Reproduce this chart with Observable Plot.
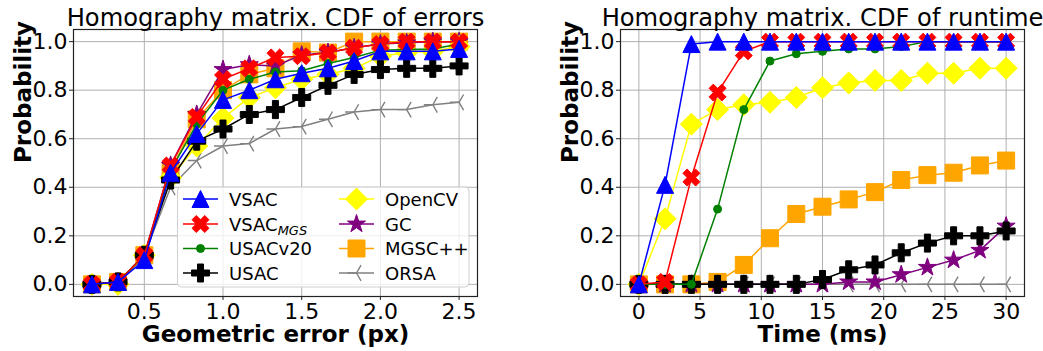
<!DOCTYPE html>
<html>
<head>
<meta charset="utf-8">
<script src="https://cdn.jsdelivr.net/npm/d3@7"></script>
<script src="https://cdn.jsdelivr.net/npm/@observablehq/plot@0.6"></script>
<style>
  html, body { margin: 0; padding: 0; background: #fff; }
  #wrap { position: relative; width: 1043px; height: 351px; overflow: hidden; font-family: "DejaVu Sans", sans-serif; }
  #wrap > .panel { position: absolute; top: 0; }
  #legend { position: absolute; left: 0; top: 0; }
</style>
</head>
<body>
<div id="wrap"></div>
<script>
// ---------- data ----------
const seriesNames = ["VSAC", "VSAC_MGS", "USACv20", "USAC", "OpenCV", "GC", "MGSC++", "ORSA"];
const seriesColors = ["blue", "red", "green", "black", "yellow", "purple", "orange", "gray"];

// error thresholds (px)
const errX = [0.167, 0.333, 0.5, 0.667, 0.833, 1.0, 1.167, 1.333, 1.5, 1.667, 1.833, 2.0, 2.167, 2.333, 2.5];
const errVSAC    = [0.0, 0.01, 0.10, 0.46, 0.62, 0.76, 0.80, 0.845, 0.87, 0.89, 0.92, 0.96, 0.96, 0.96, 0.97];
const errVSACMGS = [0.0, 0.01, 0.12, 0.49, 0.69, 0.845, 0.89, 0.935, 0.94, 0.955, 0.975, 0.99, 1.0, 1.0, 1.0];
const errUSACv20 = [0.0, 0.01, 0.12, 0.47, 0.66, 0.80, 0.845, 0.875, 0.88, 0.91, 0.935, 0.965, 0.968, 0.97, 0.99];
const errUSAC    = [0.0, 0.01, 0.12, 0.43, 0.59, 0.64, 0.70, 0.72, 0.77, 0.82, 0.865, 0.885, 0.89, 0.89, 0.90];
const errOpenCV  = [0.0, 0.0, 0.12, 0.44, 0.57, 0.685, 0.77, 0.81, 0.845, 0.865, 0.89, 0.94, 0.955, 0.96, 0.98];
const errGC      = [0.0, 0.01, 0.12, 0.49, 0.70, 0.885, 0.905, 0.90, 0.945, 0.955, 0.975, 0.99, 0.995, 1.0, 1.0];
const errMGSC    = [0.0, 0.01, 0.12, 0.47, 0.68, 0.80, 0.865, 0.89, 0.96, 0.955, 1.0, 1.0, 1.0, 1.0, 1.0];
const errORSA    = [0.0, 0.01, 0.12, 0.40, 0.51, 0.57, 0.58, 0.64, 0.65, 0.68, 0.71, 0.72, 0.72, 0.74, 0.75];

// runtime thresholds (ms)
const timeX = [0, 2.14, 4.29, 6.43, 8.57, 10.71, 12.86, 15, 17.14, 19.29, 21.43, 23.57, 25.71, 27.86, 30];
const timeVSAC    = [0, 0.41, 0.99, 1, 1, 1, 1, 1, 1, 1, 1, 1, 1, 1, 1];
const timeVSACMGS = [0, 0.01, 0.44, 0.79, 0.96, 1, 1, 1, 1, 1, 1, 1, 1, 1, 1];
const timeUSACv20 = [0, 0, 0, 0.31, 0.72, 0.92, 0.95, 0.96, 0.97, 0.97, 0.98, 1, 1, 1, 1];
const timeUSAC    = [0, 0, 0, 0, 0, 0, 0, 0.02, 0.06, 0.08, 0.13, 0.17, 0.20, 0.20, 0.22];
const timeOpenCV  = [0, 0.27, 0.66, 0.72, 0.74, 0.75, 0.77, 0.81, 0.83, 0.84, 0.84, 0.87, 0.87, 0.89, 0.89];
const timeGC      = [0, 0, 0, 0, 0, 0, 0, 0, 0.01, 0.01, 0.04, 0.07, 0.10, 0.14, 0.24];
const timeMGSC    = [0, 0, 0, 0.01, 0.08, 0.19, 0.29, 0.32, 0.35, 0.38, 0.43, 0.45, 0.46, 0.49, 0.51];
const timeORSA    = [0, 0, 0, 0, 0, 0, 0, 0, 0, 0, 0, 0, 0, 0, 0];

const errTicks = [0.5, 1.0, 1.5, 2.0, 2.5];
const timeTicks = [0, 5, 10, 15, 20, 25, 30];
const probTicks = [0.0, 0.2, 0.4, 0.6, 0.8, 1.0];

const titles = ["Homography matrix. CDF of errors", "Homography matrix. CDF of runtime"];
const xLabels = ["Geometric error (px)", "Time (ms)"];
const yLabel = "Probability";

const errSeries = [errVSAC, errVSACMGS, errUSACv20, errUSAC, errOpenCV, errGC, errMGSC, errORSA];
const timeSeries = [timeVSAC, timeVSACMGS, timeUSACv20, timeUSAC, timeOpenCV, timeGC, timeMGSC, timeORSA];

// ---------- marker shapes (matplotlib-like) ----------
function poly(ctx, pts) { ctx.moveTo(pts[0][0], pts[0][1]); for (let i = 1; i < pts.length; i++) ctx.lineTo(pts[i][0], pts[i][1]); ctx.closePath(); }
const rad = s => Math.sqrt(s / Math.PI);
const symTriangle = { draw(ctx, s) { const r = rad(s); poly(ctx, [[0, -r], [r, r], [-r, r]]); } };
const plusPts = r => { const a = r / 3; return [[-a, -r], [a, -r], [a, -a], [r, -a], [r, a], [a, a], [a, r], [-a, r], [-a, a], [-r, a], [-r, -a], [-a, -a]]; };
const symPlus = { draw(ctx, s) { poly(ctx, plusPts(rad(s))); } };
const symX = { draw(ctx, s) { const c = Math.SQRT1_2; poly(ctx, plusPts(rad(s) * 1.0).map(([x, y]) => [c * (x - y), c * (x + y)])); } };
const symCircle = { draw(ctx, s) { const r = rad(s); ctx.moveTo(r, 0); ctx.arc(0, 0, r, 0, 2 * Math.PI); ctx.closePath(); } };
const symDiamond = { draw(ctx, s) { const r = rad(s); poly(ctx, [[0, -r], [r, 0], [0, r], [-r, 0]]); } };
const symSquare = { draw(ctx, s) { const r = rad(s); poly(ctx, [[-r, -r], [r, -r], [r, r], [-r, r]]); } };
const symStar = { draw(ctx, s) { const r = rad(s), ri = r * 0.382; const pts = []; for (let i = 0; i < 10; i++) { const a = -Math.PI / 2 + i * Math.PI / 5; const rr = i % 2 ? ri : r; pts.push([rr * Math.cos(a), rr * Math.sin(a)]); } poly(ctx, pts); } };
const symTriLeft = { draw(ctx, s) { const r = rad(s); ctx.moveTo(-r, 0); ctx.lineTo(0, 0); ctx.lineTo(r * 0.5, -r * 0.866); ctx.moveTo(0, 0); ctx.lineTo(r * 0.5, r * 0.866); } };

const markers = [
  { sym: symTriangle, r: 8.5, filled: true },
  { sym: symX, r: 9, filled: true },
  { sym: symCircle, r: 4, filled: true },
  { sym: symPlus, r: 9, filled: true },
  { sym: symDiamond, r: 11, filled: true },
  { sym: symStar, r: 9.5, filled: true },
  { sym: symSquare, r: 8.5, filled: true },
  { sym: symTriLeft, r: 9, filled: false }
];

const FONT = "DejaVu Sans";

function panel(xs, seriesVals, opts) {
  const marks = [
    Plot.gridX(opts.xTicks, { stroke: "#b0b0b0", strokeOpacity: 1, strokeWidth: 1 }),
    Plot.gridY(probTicks, { stroke: "#b0b0b0", strokeOpacity: 1, strokeWidth: 1 }),
    Plot.axisX(opts.xTicks, { tickSize: 4, tickPadding: 3, tickFormat: opts.xFormat, label: null, fontSize: 22, stroke: "#222" }),
    Plot.axisY(probTicks, { tickSize: 4, tickPadding: 2, tickFormat: ".1f", label: null, fontSize: 22, stroke: "#222" })
  ];
  // draw in reverse order so VSAC ends on top
  for (let k = seriesNames.length - 1; k >= 0; k--) {
    const rows = xs.map((x, i) => ({ x, y: seriesVals[k][i] }));
    const m = markers[k];
    marks.push(Plot.line(rows, { x: "x", y: "y", stroke: seriesColors[k], strokeWidth: 1.5 }));
    marks.push(Plot.dot(rows, {
      x: "x", y: "y", symbol: m.sym, r: m.r,
      fill: m.filled ? seriesColors[k] : "none",
      stroke: seriesColors[k], strokeWidth: m.filled ? 1 : 1.4
    }));
  }
  marks.push(Plot.frame({ stroke: "#222", strokeWidth: 1.2 }));
  marks.push(Plot.text([opts.title], { text: d => d, frameAnchor: "top", lineAnchor: "middle", dy: -11.5, fontSize: 24.2, fill: "black" }));
  marks.push(Plot.text([opts.xLabel], { text: d => d, frameAnchor: "bottom", lineAnchor: "middle", dy: 38.5, fontSize: 23, fontWeight: "bold", fill: "black" }));
  marks.push(Plot.text([yLabel], { text: d => d, frameAnchor: "left", lineAnchor: "middle", dx: -50, rotate: -90, fontSize: 23, fontWeight: "bold", fill: "black" }));
  return Plot.plot({
    width: opts.width, height: 351,
    marginLeft: opts.ml, marginRight: opts.mr, marginTop: 29, marginBottom: 55,
    style: { fontFamily: FONT, background: "white", color: "black", overflow: "visible" },
    x: { type: "linear", domain: opts.xDomain },
    y: { type: "linear", domain: [-0.05, 1.05] },
    marks
  });
}

const wrap = document.getElementById("wrap");
const left = panel(errX, errSeries, { width: 521, ml: 73, mr: 44, xDomain: [0.05, 2.617], xTicks: errTicks, xFormat: ".1f", title: titles[0], xLabel: xLabels[0] });
const right = panel(timeX, timeSeries, { width: 522, ml: 99, mr: 19, xDomain: [-1.5, 31.5], xTicks: timeTicks, xFormat: "d", title: titles[1], xLabel: xLabels[1] });
left.classList.add("panel"); right.classList.add("panel");
left.style.left = "0px"; right.style.left = "521px";
wrap.appendChild(left); wrap.appendChild(right);

// ---------- legend (left panel) ----------
const legendLabels = ["VSAC", "VSAC_MGS", "USACv20", "USAC", "OpenCV", "GC", "MGSC++", "ORSA"];
const lg = d3.select(wrap).append("svg").attr("id", "legend").attr("width", 1043).attr("height", 351)
  .style("font-family", FONT);
lg.append("rect").attr("x", 177.5).attr("y", 187).attr("width", 291.5).attr("height", 100).attr("rx", 4)
  .attr("fill", "white").attr("fill-opacity", 0.8).attr("stroke", "#d0d0d0");
const colX = [183, 339], rowY = [199, 224, 248.5, 273];
legendLabels.forEach((name, k) => {
  const col = Math.floor(k / 4), row = k % 4;
  const x0 = colX[col], y0 = rowY[row];
  const g = lg.append("g");
  g.append("line").attr("x1", x0).attr("x2", x0 + 35).attr("y1", y0).attr("y2", y0)
    .attr("stroke", seriesColors[k]).attr("stroke-width", 1.5);
  const m = markers[k];
  g.append("path").attr("transform", `translate(${x0 + 17.5},${y0})`)
    .attr("d", d3.symbol(m.sym, Math.PI * m.r * m.r)())
    .attr("fill", m.filled ? seriesColors[k] : "none").attr("stroke", seriesColors[k]).attr("stroke-width", m.filled ? 1 : 1.4);
  const t = g.append("text").attr("x", x0 + 46).attr("y", y0 + 6.5).attr("font-size", 18).attr("fill", "black");
  if (name === "VSAC_MGS") {
    t.append("tspan").text("VSAC");
    t.append("tspan").attr("font-size", 13).attr("font-style", "italic").attr("dy", 4).text("MGS");
  } else {
    t.text(name);
  }
});
</script>
</body>
</html>
